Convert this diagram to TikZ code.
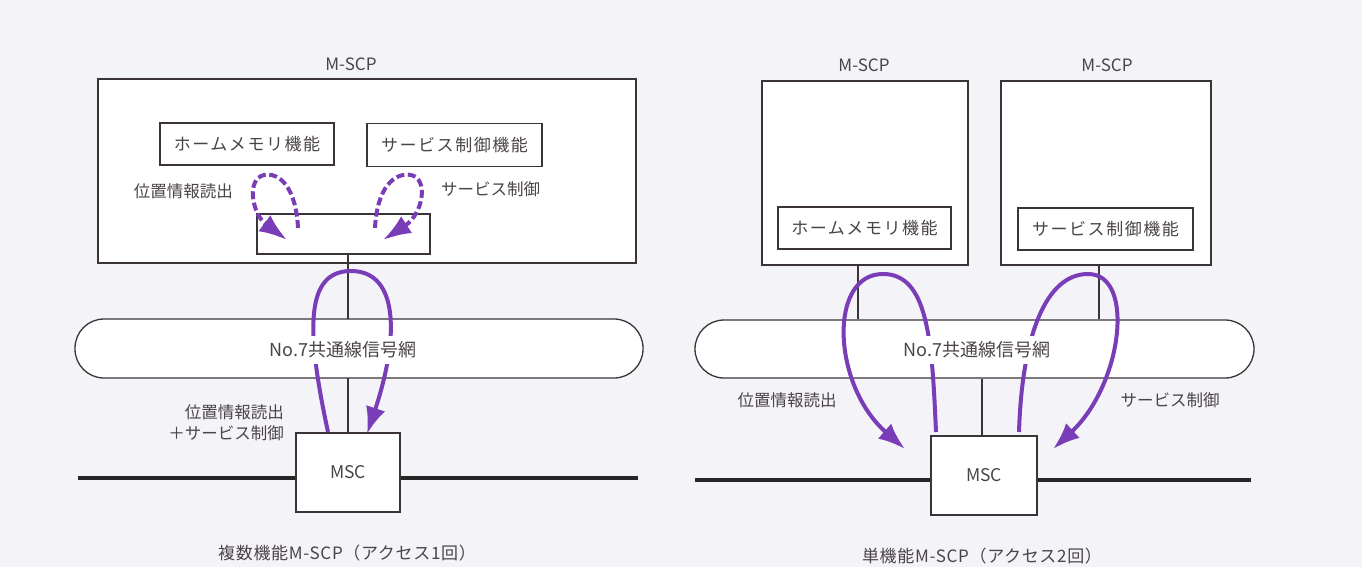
\documentclass[tikz,border=0pt]{standalone}
\usepackage{fontspec}
\setmainfont{Noto Sans CJK JP}
\newfontfamily\cjkwide[LetterSpace=9]{Noto Sans CJK JP}
\newfontfamily\cjkmid[LetterSpace=4]{Noto Sans CJK JP}
\usetikzlibrary{arrows.meta,calc}
\definecolor{bgcol}{HTML}{F4F3F8}
\definecolor{linecol}{HTML}{3A3436}
\definecolor{txtcol}{HTML}{4A4446}
\definecolor{arrcol}{HTML}{7A3DB8}
\tikzset{
  box/.style={draw=linecol, line width=1.3pt, fill=white, inner sep=0pt, text=txtcol},
  fbox/.style={box, font=\cjkwide\fontsize{17}{20}\selectfont},
  mscbox/.style={box, font=\fontsize{17.5}{20}\selectfont},
  lbl/.style={text=txtcol, font=\fontsize{17}{20}\selectfont, inner sep=0pt},
  cjk/.style={text=txtcol, font=\fontsize{16.5}{21}\selectfont, inner sep=0pt},
  captext/.style={text=txtcol, font=\cjkmid\fontsize{17}{20}\selectfont, inner sep=0pt},
  netbox/.style={draw=linecol, line width=1.3pt, fill=white, rounded corners=29pt, inner sep=0pt},
  netlbl/.style={text=txtcol, font=\fontsize{18}{21}\selectfont, fill=white, inner xsep=2pt, inner ysep=6pt},
  wire/.style={draw=linecol, line width=1.5pt},
  trunk/.style={draw=black!85, line width=4pt},
  flow/.style={draw=arrcol, line width=4pt, -{Latex[length=27pt,width=20pt]}},
  dflow/.style={draw=arrcol, line width=4pt, dash pattern=on 8pt off 3.5pt, -{Latex[length=28pt,width=20pt]}},
}
\begin{document}
\begin{tikzpicture}[x=1pt,y=-1pt]
\fill[bgcol] (0,0) rectangle (1362,567);
\useasboundingbox (0,0) rectangle (1362,567);

% ===== left diagram =====
\node[box, minimum width=538pt, minimum height=184pt] (Lscp) at (367,171) {};
\node[fbox, minimum width=174pt, minimum height=42pt] (Lhm) at (247,144) {ホームメモリ機能};
\node[fbox, minimum width=175pt, minimum height=43pt] (Lsc) at (454.5,145) {サービス制御機能};
\node[box, minimum width=173pt, minimum height=40pt] (Lsm) at (343.5,234) {};
\node[lbl] (Ltitle) at (351,64) {M-SCP};

\draw[trunk] (78,478) coordinate (Ltl) -- (638,478) coordinate (Ltr);
\coordinate (Lsmb) at ($(Lsm.south)+(4.5,0)$);
\node[mscbox, minimum width=104pt, minimum height=79pt] (Lmsc) at (348,472.5) {MSC};
\draw[wire] (Lsmb) -- (Lsmb |- Lmsc.north);
\node[netbox, minimum width=568pt, minimum height=59pt] (Lnet) at (359,348.5) {};

\node[cjk, anchor=east] (Lpos) at (233,191) {位置情報読出};
\node[cjk, anchor=west] (Lsvc) at (441,189) {サービス制御};
\node[cjk, anchor=east, align=right] (Lboth) at (284,423) {位置情報読出\\＋サービス制御};
\node[captext] (Lcap) at (347,553) {複数機能M-SCP（アクセス1回）};

% dashed internal flows
\draw[dflow] (298,228) .. controls (296,188) and (280,172) .. (264,175)
   .. controls (246,179) and (252,214) .. (287,240);
\draw[dflow] (375,228) .. controls (377,188) and (394,172) .. (411,175)
   .. controls (429,179) and (423,214) .. (383,240);

% loop through network
\draw[flow] (328,432) .. controls (306,330) and (305,271) .. (351,271)
   .. controls (398,271) and (400,335) .. (367,434);

\node[netlbl] (Lnetl) at (343,350) {No.7共通線信号網};

% ===== right diagram =====
\node[box, minimum width=206pt, minimum height=184pt] (Rscp1) at (865,173) {};
\node[box, minimum width=210pt, minimum height=184pt] (Rscp2) at (1106,173) {};
\node[fbox, minimum width=173pt, minimum height=42pt] (Rhm) at (864.5,228) {ホームメモリ機能};
\node[fbox, minimum width=175pt, minimum height=42pt] (Rsc) at (1105.5,229) {サービス制御機能};
\node[lbl] (Rt1) at (864,65) {M-SCP};
\node[lbl] (Rt2) at (1107,65) {M-SCP};

\draw[trunk] (695,480) coordinate (Rtl) -- (1251,480) coordinate (Rtr);
\node[mscbox, minimum width=106pt, minimum height=79pt] (Rmsc) at (984,475.5) {MSC};
\node[netbox, minimum width=559pt, minimum height=58pt] (Rnet) at (974.5,349) {};
\coordinate (R1b) at ($(Rscp1.south)+(-7,0)$);
\coordinate (R2b) at ($(Rscp2.south)+(-7,0)$);
\coordinate (Rmt) at ($(Rmsc.north)+(-2,0)$);
\draw[wire] (R1b) -- (R1b |- Rnet.north);
\draw[wire] (R2b) -- (R2b |- Rnet.north);
\draw[wire] (Rmt) -- (Rmt |- Rnet.south);

\node[cjk] (Rpos) at (787,400) {位置情報読出};
\node[cjk] (Rsvc) at (1170,400) {サービス制御};
\node[captext] (Rcap) at (982,556) {単機能M-SCP（アクセス2回）};

\draw[flow] (936,432) .. controls (932,340) and (928,274) .. (883,274)
   .. controls (828,274) and (832,385) .. (905,449);
\draw[flow] (1019,432) .. controls (1022,335) and (1046,274) .. (1088,274)
   .. controls (1136,274) and (1122,385) .. (1053,449);

\node[netlbl] (Rnetl) at (977,350) {No.7共通線信号網};
\end{tikzpicture}
\end{document}
